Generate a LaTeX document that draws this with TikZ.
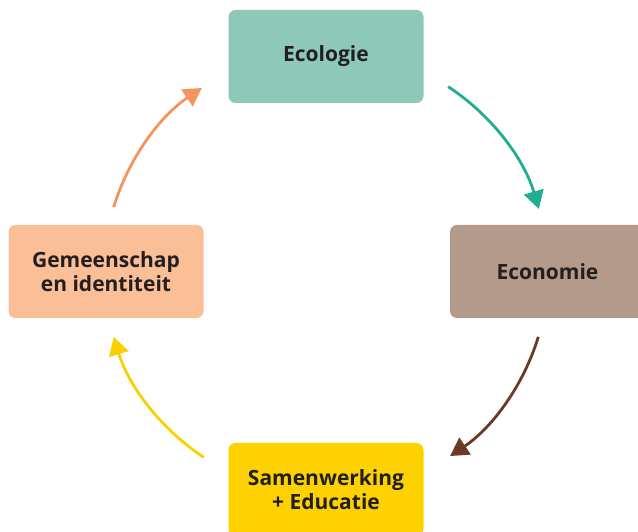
\documentclass[tikz,border=0pt]{standalone}
\usepackage{fontspec}
\IfFontExistsTF{Open Sans SemiBold}{%
  \setmainfont{Open Sans}[BoldFont={Open Sans SemiBold}]}{%
  \setmainfont{Open Sans}}
\usetikzlibrary{arrows.meta}
\definecolor{ecol}{HTML}{8DC8B9}
\definecolor{econ}{HTML}{B39A8B}
\definecolor{samen}{HTML}{FDD200}
\definecolor{gemeen}{HTML}{FBBF98}
\definecolor{tealarr}{HTML}{1FAE93}
\definecolor{brownarr}{HTML}{6B3A22}
\definecolor{yellowarr}{HTML}{F9D000}
\definecolor{orangearr}{HTML}{F5945E}
\definecolor{txt}{HTML}{231F20}
\tikzset{
  box/.style={rounded corners=7pt, minimum width=195pt, minimum height=93pt,
    inner sep=0pt, align=center, text=txt,
    font=\fontsize{21}{24}\selectfont\bfseries},
  cyc/.style={line width=2.8pt, -{Triangle[length=18pt,width=20pt]}}
}
\begin{document}
\begin{tikzpicture}[x=1pt,y=1pt]
\useasboundingbox (0,0) rectangle (638,532);
\clip (0,0) rectangle (638,532);
\node[box, fill=ecol] (ecologie) at (326,475.5) {Ecologie};
\node[box, fill=econ] (economie) at (547.5,260.5) {Economie};
\node[box, fill=samen] (samen) at (326,42.5) {Samenwerking\\+ Educatie};
\node[box, fill=gemeen] (gemeen) at (106,260.5) {Gemeenschap\\en identiteit};
\coordinate (c) at (326,260);
\draw[cyc, draw=tealarr] ([shift={(56.6:222)}]c) arc[start angle=56.6, end angle=16.5, radius=222];
\draw[cyc, draw=brownarr] ([shift={(-17:222)}]c) arc[start angle=-17, end angle=-56, radius=222];
\draw[cyc, draw=yellowarr] ([shift={(-123.4:222)}]c) arc[start angle=-123.4, end angle=-163, radius=222];
\draw[cyc, draw=orangearr] ([shift={(163:222)}]c) arc[start angle=163, end angle=124, radius=222];
\end{tikzpicture}
\end{document}
